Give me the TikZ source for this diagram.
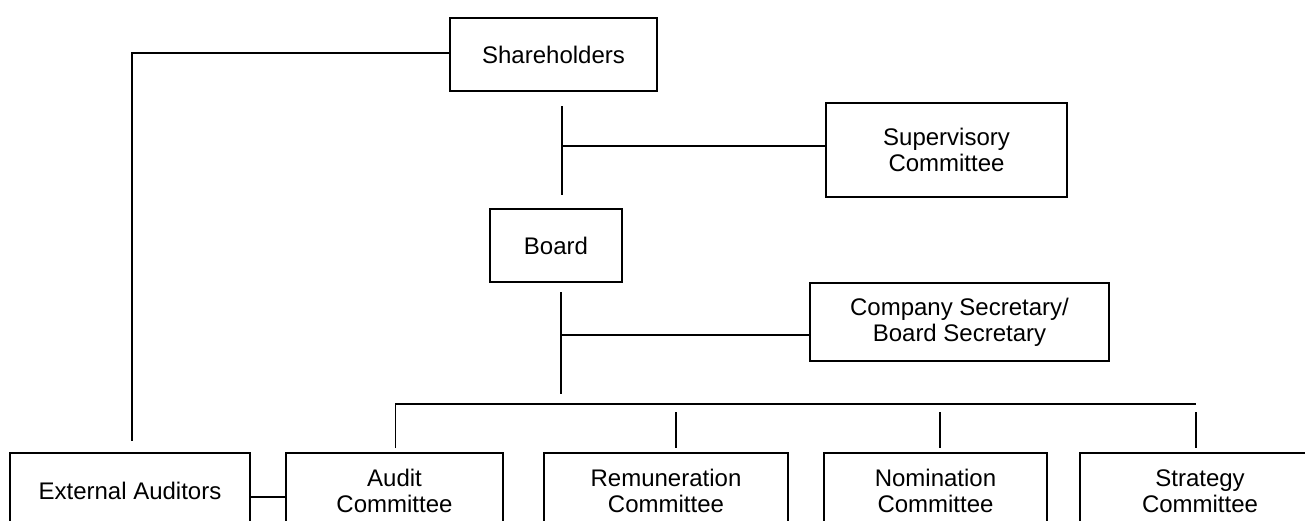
\documentclass[tikz,border=0pt]{standalone}
\usepackage{fontspec}
\setmainfont{Liberation Sans}
\begin{document}
\begin{tikzpicture}[x=1pt,y=-1pt,
  box/.style={draw, line width=1.5pt, align=center, inner sep=0pt,
    font=\fontsize{24}{26}\selectfont},
  conn/.style={line width=1.5pt}]
\useasboundingbox (0,0) rectangle (1305,520);
\clip (0,0) rectangle (1305,520);
% boxes
\node[box, minimum width=207pt, minimum height=73pt] (sh) at (553.5,54.5) {Shareholders};
\node[box, minimum width=241pt, minimum height=94pt] (sup) at (946.5,150) {Supervisory\\Committee};
\node[box, minimum width=132pt, minimum height=73pt] (board) at (556,245.5) {Board};
\node[box, minimum width=299pt, minimum height=78pt] (sec) at (959.5,322) {Company Secretary/\\Board Secretary};
\node[box, minimum width=240pt, minimum height=76pt] (ext) at (130,491) {External Auditors};
\node[box, minimum width=217pt, minimum height=76pt] (audit) at (394.5,491) {Audit\\Committee};
\node[box, minimum width=244pt, minimum height=76pt] (rem) at (666,491) {Remuneration\\Committee};
\node[box, minimum width=223pt, minimum height=76pt] (nom) at (935.5,491) {Nomination\\Committee};
\node[box, minimum width=240pt, minimum height=76pt] (strat) at (1200,491) {Strategy\\Committee};
% free ends
\coordinate (extTop) at (132,441);
\coordinate (v1t) at (562,106);
\coordinate (v1b) at (562,195);
\coordinate (b1) at (562,146);
\coordinate (v2t) at (561,292);
\coordinate (v2b) at (561,394);
\coordinate (b2) at (561,335);
\coordinate (barL) at (395.5,404);
\coordinate (barR) at (1196,404);
\coordinate (auditT) at (395.5,448);
\coordinate (remT) at (676,412);
\coordinate (remB) at (676,448);
\coordinate (nomT) at (940,412);
\coordinate (nomB) at (940,448);
\coordinate (stratT) at (1196,412);
\coordinate (stratB) at (1196,448);
\coordinate (lk) at (0,497);
% connectors
\draw[conn] (sh.west |- 0,53) -| (extTop);
\draw[conn] (v1t) -- (v1b);
\draw[conn] (b1) -- (sup.west |- b1);
\draw[conn] (v2t) -- (v2b);
\draw[conn] (b2) -- (sec.west |- b2);
\draw[conn] (auditT) -- (barL) -- (barR);
\draw[conn] (remT) -- (remB);
\draw[conn] (nomT) -- (nomB);
\draw[conn] (stratT) -- (stratB);
\draw[conn] (ext.east |- lk) -- (audit.west |- lk);
\end{tikzpicture}
\end{document}
